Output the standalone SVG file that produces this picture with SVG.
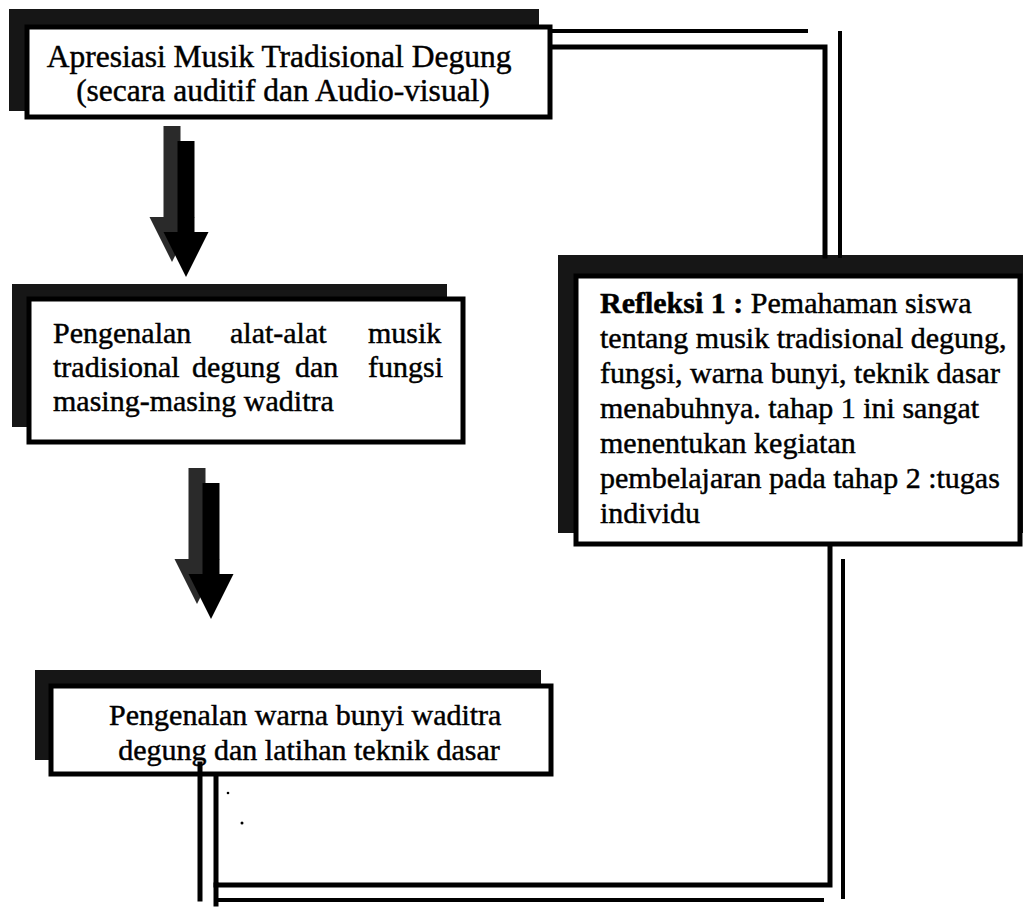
<svg xmlns="http://www.w3.org/2000/svg" width="1023" height="907" viewBox="0 0 1023 907">
  <style>
    .shadow { fill: #161616; stroke: none; }
    .box { fill: #ffffff; stroke: #000000; stroke-width: 5; }
    .txt { font-family: "Liberation Serif", "Times New Roman", serif; fill: #000000; stroke: #000000; stroke-width: 0.45; }
    .line { fill: none; stroke: #000000; stroke-width: 5; stroke-linecap: square; stroke-linejoin: miter; }
    .thin { fill: none; stroke: #000000; stroke-width: 4; stroke-linecap: square; }
    .arrow-main { fill: #000000; }
    .arrow-shadow { fill: #2a2a2a; }
  </style>
  <defs>
    <path id="blockArrow" d="M-8.5,0 H8.5 V91 H22.5 L0,136 L-22.5,91 H-8.5 Z"/>
  </defs>
  <rect x="0" y="0" width="1023" height="907" fill="#ffffff"/>

  <g id="node-apresiasi">
    <rect class="shadow" x="9" y="9" width="530" height="102"/>
    <rect class="box" x="27" y="27" width="523" height="90"/>
    <text class="txt" font-size="31.5" text-anchor="middle">
      <tspan x="283" y="67">Apresiasi Musik Tradisional Degung</tspan>
      <tspan x="283" y="101">(secara auditif dan Audio-visual)</tspan>
    </text>
  </g>

  <g id="node-pengenalan-alat">
    <rect class="shadow" x="12" y="284" width="435" height="143"/>
    <rect class="box" x="29" y="299" width="434" height="143"/>
    <text class="txt" font-size="30">
      <tspan x="53" y="343">Pengenalan</tspan><tspan x="230" y="343">alat-alat</tspan><tspan x="368" y="343">musik</tspan>
      <tspan x="53" y="377">tradisional</tspan><tspan x="192" y="377">degung</tspan><tspan x="295" y="377">dan</tspan><tspan x="368" y="377">fungsi</tspan>
      <tspan x="53" y="411">masing-masing waditra</tspan>
    </text>
  </g>

  <g id="node-pengenalan-warna">
    <rect class="shadow" x="35" y="670" width="506" height="90"/>
    <rect class="box" x="51" y="686" width="500" height="88"/>
    <text class="txt" font-size="30" text-anchor="middle">
      <tspan x="309" y="725">Pengenalan warna bunyi waditra</tspan>
      <tspan x="309" y="760">degung dan latihan teknik dasar</tspan>
    </text>
  </g>

  <g id="node-refleksi">
    <rect class="shadow" x="558" y="255" width="465" height="278"/>
    <rect class="box" x="576" y="276" width="444" height="268"/>
    <text class="txt" font-size="30">
      <tspan x="600" y="313"><tspan font-weight="bold">Refleksi 1 :</tspan> Pemahaman siswa</tspan>
      <tspan x="600" y="348">tentang musik tradisional degung,</tspan>
      <tspan x="600" y="383">fungsi, warna bunyi, teknik dasar</tspan>
      <tspan x="600" y="418">menabuhnya. tahap 1 ini sangat</tspan>
      <tspan x="600" y="453">menentukan kegiatan</tspan>
      <tspan x="600" y="488">pembelajaran pada tahap 2 :tugas</tspan>
      <tspan x="600" y="523">individu</tspan>
    </text>
  </g>

  <g id="connectors">
    <!-- block arrows with shadows -->
    <use href="#blockArrow" class="arrow-shadow" transform="translate(172,126)"/>
    <use href="#blockArrow" class="arrow-main" transform="translate(186,141)"/>
    <use href="#blockArrow" class="arrow-shadow" transform="translate(197,468)"/>
    <use href="#blockArrow" class="arrow-main" transform="translate(211,483)"/>

    <!-- top double connector: Apresiasi -> Refleksi -->
    <path class="thin" d="M552,31 H806"/>
    <path class="line" d="M552,47 H825 V256"/>
    <path class="thin" d="M840,33 V256"/>

    <!-- bottom double connector: Refleksi -> Pengenalan warna -->
    <path class="line" d="M830,547 V885 H216 V776"/>
    <path class="line" d="M216,885 V904"/>
    <path class="thin" d="M216,900 H822"/>
    <path class="thin" d="M843,561 V897"/>
    <path class="line" d="M200,764 V899"/>

    <!-- small scan marks -->
    <circle cx="228" cy="793" r="1.3" fill="#000"/>
    <circle cx="242" cy="823" r="1.5" fill="#000"/>
  </g>
</svg>
